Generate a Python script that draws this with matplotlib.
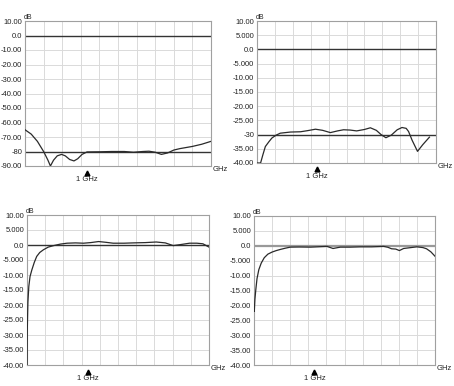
import matplotlib
matplotlib.use("Agg")
import matplotlib.pyplot as plt
import matplotlib.transforms as mtransforms
import numpy as np

plt.rcParams['font.family'] = ['Liberation Sans', 'DejaVu Sans']

# frequency axis, GHz
x_max = 3.0
marker_ghz = 1.0

# panel 1 (top left)
f1 = [0.0, 0.1, 0.2, 0.3, 0.37, 0.41, 0.46, 0.52, 0.59, 0.65, 0.72, 0.79, 0.85, 0.92,
      1.0, 1.2, 1.4, 1.6, 1.75, 1.9, 2.0, 2.1, 2.2, 2.3, 2.4, 2.5, 2.7, 2.85, 3.0]
s1 = [-65, -68, -73, -80, -86, -90, -86, -83, -82, -83, -85.5, -86.5, -85, -82,
      -80.3, -80.2, -80, -80, -80.5, -80, -79.8, -80.5, -82, -81, -79, -78, -76.5, -75, -73]
ticks1 = [10, 0, -10, -20, -30, -40, -50, -60, -70, -80, -90]
labels1 = ["10.00", "0.0", "-10.00", "-20.00", "-30.00", "-40.00", "-50.00",
           "-60.00", "-70.00", "-80", "-90.00"]
ref1 = [0, -80]

# panel 2 (top right)
f2 = [0.0, 0.06, 0.1, 0.14, 0.2, 0.25, 0.32, 0.39, 0.56, 0.73, 0.85, 0.98, 1.1, 1.23,
      1.35, 1.45, 1.56, 1.67, 1.8, 1.9, 2.0, 2.08, 2.16, 2.25, 2.35, 2.43, 2.5, 2.54,
      2.6, 2.69, 2.78, 2.89]
s2 = [-40, -40, -37, -34.2, -32.5, -31.2, -30.2, -29.5, -29.1, -29.0, -28.6, -28.1,
      -28.5, -29.3, -28.7, -28.3, -28.4, -28.7, -28.2, -27.6, -28.5, -30, -31.1, -30.2,
      -28.3, -27.5, -27.8, -28.9, -32, -35.9, -33.5, -30.9]
ticks2 = [10, 5, 0, -5, -10, -15, -20, -25, -30, -35, -40]
labels2 = ["10.00", "5.000", "0.0", "-5.000", "-10.00", "-15.00", "-20.00",
           "-25.00", "-30", "-35.00", "-40.00"]
ref2 = [0, -30]

# panel 3 (bottom left)
f3 = [0.0, 0.005, 0.015, 0.03, 0.05, 0.08, 0.12, 0.16, 0.21, 0.27, 0.35, 0.44, 0.55,
      0.66, 0.8, 0.93, 1.05, 1.18, 1.3, 1.42, 1.6, 1.75, 1.95, 2.13, 2.28, 2.41, 2.55,
      2.68, 2.8, 2.9, 3.0]
s3 = [-42, -28, -19, -13.8, -10.5, -8.3, -5.8, -3.8, -2.5, -1.6, -0.7, -0.2, 0.3,
      0.6, 0.7, 0.6, 0.8, 1.15, 0.9, 0.6, 0.6, 0.7, 0.8, 1.0, 0.7, -0.2, 0.2,
      0.6, 0.6, 0.4, -0.7]
ticks3 = [10, 5, 0, -5, -10, -15, -20, -25, -30, -35, -40]
labels3 = ["10.00", "5.000", "0.0", "-5.000", "-10.00", "-15.00", "-20.00",
           "-25.00", "-30.00", "-35.00", "-40.00"]
ref3 = [0]

# panel 4 (bottom right)
f4 = [0.0, 0.005, 0.015, 0.03, 0.05, 0.08, 0.12, 0.17, 0.23, 0.3, 0.37, 0.44, 0.52,
      0.6, 0.75, 0.94, 1.1, 1.21, 1.31, 1.43, 1.6, 1.76, 1.95, 2.15, 2.22, 2.28, 2.35,
      2.41, 2.48, 2.6, 2.7, 2.8, 2.86, 2.93, 3.0]
s4 = [-21, -22, -18, -14.7, -11, -8, -5.8, -4, -2.8, -2.1, -1.6, -1.2, -0.8,
      -0.45, -0.4, -0.45, -0.3, -0.2, -0.9, -0.45, -0.45, -0.35, -0.35, -0.2, -0.5,
      -1.0, -1.1, -1.6, -0.9, -0.6, -0.35, -0.6, -1.0, -2.0, -3.5]
ref4 = [0]

panels = [
    ([25, 21, 211, 166], f1, s1, ticks1, labels1, ref1, "#333333"),
    ([257, 21, 436, 163], f2, s2, ticks2, labels2, ref2, "#333333"),
    ([27, 215, 209, 365], f3, s3, ticks3, labels3, ref3, "#333333"),
    ([254, 216, 435, 365], f4, s4, ticks3, labels3, ref4, "#999999"),
]

W, H = 454, 386
fig = plt.figure(figsize=(W / 100, H / 100), dpi=100)
fig.patch.set_facecolor("white")

for (x0, y0, x1, y1), f, s, ticks, labels, refs, refcol in panels:
    ax = fig.add_axes([x0 / W, (H - y1) / H, (x1 - x0) / W, (y1 - y0) / H])
    ax.set_xlim(0, x_max)
    ax.set_ylim(ticks[-1], ticks[0])
    ax.set_xticks(np.linspace(0, x_max, 11))
    ax.set_xticklabels([])
    ax.set_yticks(ticks)
    ax.set_yticklabels(labels, fontsize=5.5, color="#222222")
    ax.tick_params(axis="both", length=0, pad=2)
    ax.grid(True, color="#dadada", linewidth=0.7)
    ax.set_axisbelow(True)
    for sp in ax.spines.values():
        sp.set_color("#a0a0a0")
        sp.set_linewidth(0.8)
    for r in refs:
        ax.axhline(r, color=refcol, linewidth=1.0 if refcol == "#333333" else 1.6, zorder=2)
    ax.plot(f, s, color="#2a2a2a", linewidth=0.9, zorder=3)

    # marker triangle + label under the axis
    below = mtransforms.offset_copy(ax.get_xaxis_transform(), fig=fig, x=0, y=-6.5, units="dots")
    ax.plot([marker_ghz], [0], marker="^", color="black", markersize=3.5,
            linestyle="none", transform=below, clip_on=False)
    ax.annotate("1 GHz", xy=(marker_ghz, 0), xycoords=ax.get_xaxis_transform(),
                xytext=(0, -7.5), textcoords="offset points",
                ha="center", va="top", fontsize=5.5, color="#222222")
    ax.text(-0.005, 1.0, "dB", transform=ax.transAxes, ha="left", va="bottom",
            fontsize=5, color="#222222")
    ax.text(1.01, 0.0, "GHz", transform=ax.transAxes, ha="left", va="top",
            fontsize=5.5, color="#222222")

fig.savefig("out.png", dpi=100, facecolor="white")
